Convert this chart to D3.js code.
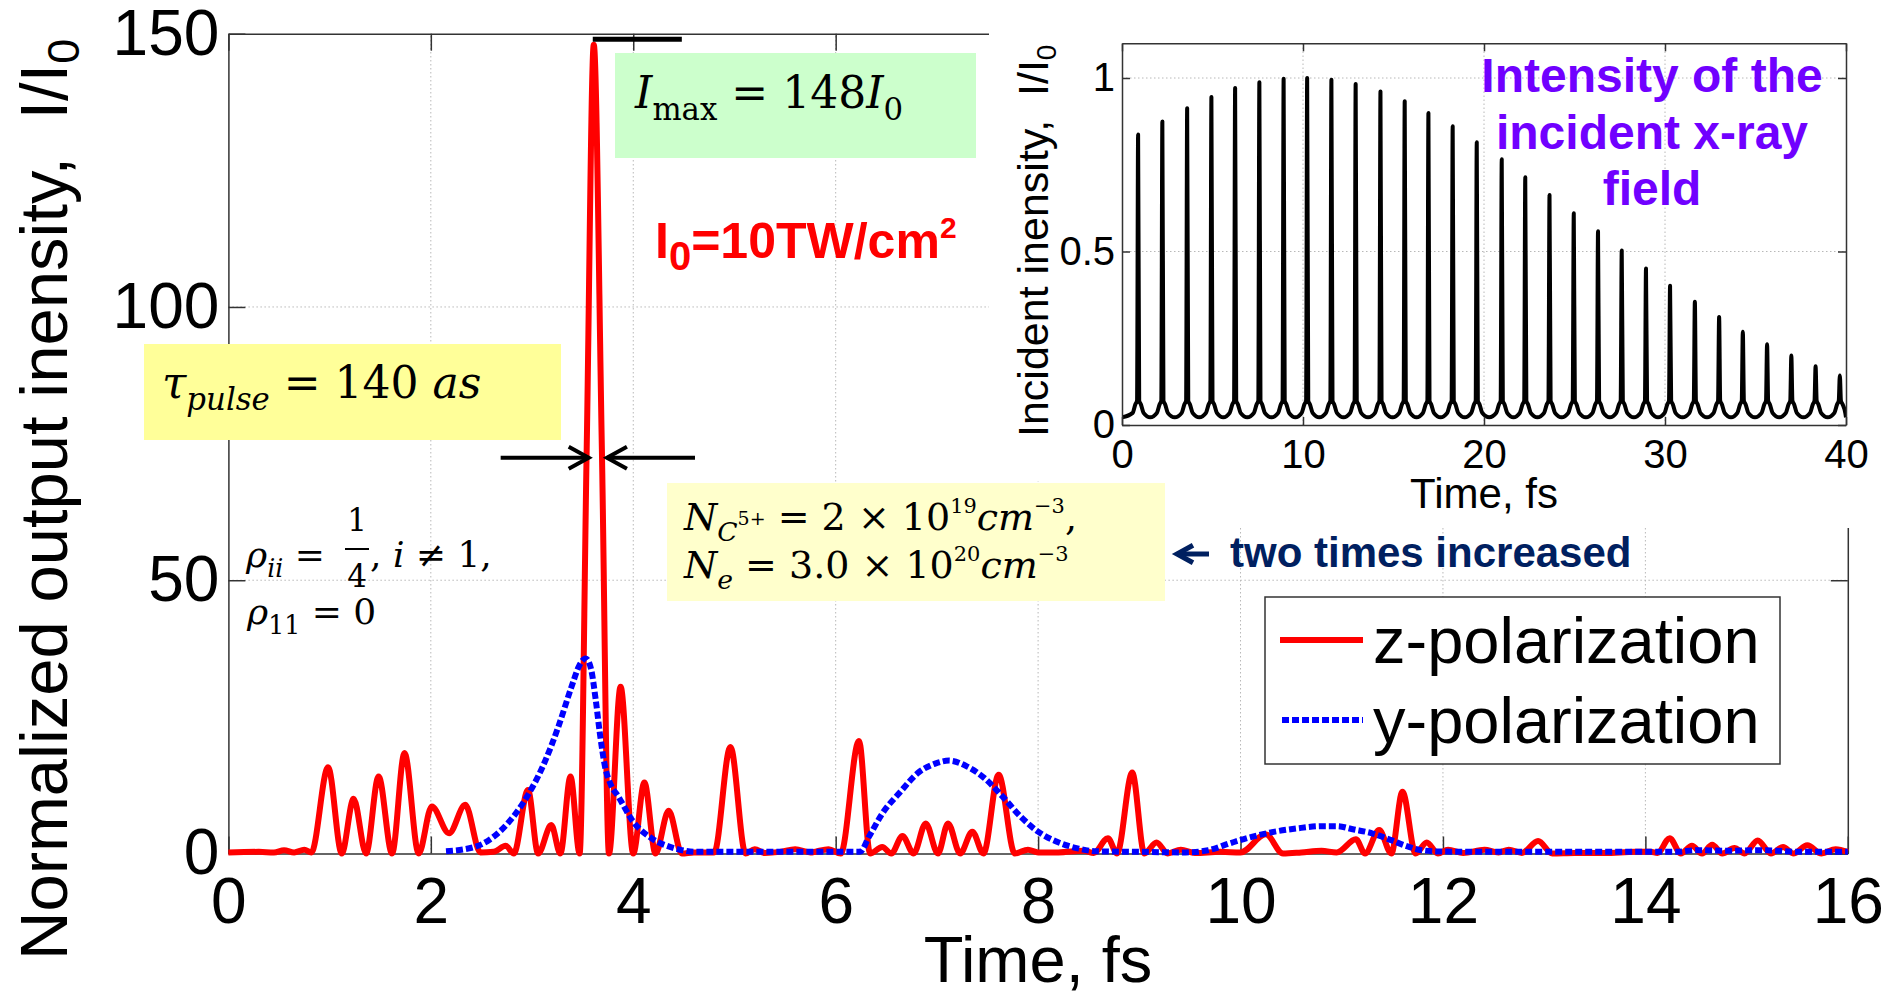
<!DOCTYPE html>
<html>
<head>
<meta charset="utf-8">
<script src="https://cdn.jsdelivr.net/npm/d3@7/dist/d3.min.js"></script>
<style>
body { margin: 0; background: #fff; }
svg text { font-family: "Liberation Sans", Arial, sans-serif; white-space: pre; }
.grid line { stroke: #b8b8b8; stroke-width: 1; stroke-dasharray: 1.5,2.5; }
.math { font-family: "DejaVu Serif", "Liberation Serif", serif; fill: #000; }
</style>
</head>
<body>
<div id="chart"></div>
<script>
// z-polarization (red): time [fs], I/I0
var zTime = [0, 0.3, 0.45, 0.55, 0.65, 0.75, 0.82, 0.985, 1.12, 1.237, 1.36, 1.484, 1.617, 1.74, 1.88,
	2.01, 2.18, 2.34, 2.49, 2.62, 2.74, 2.82, 2.96, 3.06, 3.19, 3.28, 3.38, 3.47, 3.54, 3.61, 3.69, 3.76,
	3.875, 4.0, 4.11, 4.22, 4.35, 4.48, 4.6, 4.8, 4.96, 5.11, 5.2, 5.3, 5.45, 5.6, 5.75, 5.93, 6.05,
	6.23, 6.34, 6.46, 6.55, 6.66, 6.77, 6.89, 7.01, 7.11, 7.23, 7.35, 7.46, 7.61, 7.77, 7.9, 8.0,
	8.2, 8.45, 8.55, 8.69, 8.78, 8.93, 9.05, 9.17, 9.28, 9.41, 9.55, 9.8, 10.0, 10.25, 10.42, 10.6,
	10.8, 10.95, 11.14, 11.23, 11.37, 11.49, 11.6, 11.73, 11.84, 11.95, 12.05, 12.2, 12.41, 12.55,
	12.65, 12.78, 12.94, 13.08, 13.3, 13.6, 13.9, 14.05, 14.12, 14.24, 14.35, 14.46, 14.56, 14.66,
	14.76, 14.88, 14.98, 15.11, 15.24, 15.36, 15.46, 15.6, 15.74, 15.88, 16];
var zVal = [0.2, 0.3, 0.2, 0.6, 0.2, 0.7, 0.2, 15.8, 0, 10.0, 0, 14.1, 0, 18.4, 0,
	8.6, 3.7, 8.9, 0.2, 0.3, 1.4, 0, 11.6, 0, 5.2, 0, 14.1, 0, 74, 148, 74, 0,
	30.5, 0, 13.0, 0, 7.8, 0, 0.2, 0.2, 19.5, 0, 0.8, 0.1, 0.3, 0.8, 0.2, 0.8, 0,
	20.6, 0, 1.2, 0, 3.2, 0, 5.5, 0, 5.5, 0, 4.0, 0, 14.4, 0, 0.7, 0.2,
	0.2, 0.5, 0.1, 2.8, 0, 14.8, 0, 2.0, 0, 0.7, 0.1, 0.3, 0.2, 3.5, 0, 0.2,
	0.5, 0.2, 2.6, 0, 4.3, 0, 11.3, 0, 2.0, 0, 0.7, 0.1, 0.7, 0.2,
	0.7, 0.1, 2.3, 0, 0.1, 0.1, 0.3, 0.3, 0.1, 2.8, 0, 1.4, 0, 1.6,
	0, 1.0, 0, 2.4, 0, 1.2, 0, 1.5, 0, 0.8, 0.3];

// y-polarization (blue, dotted)
var yTime = [2.15, 2.45, 2.68, 2.95, 3.12, 3.26, 3.39, 3.47, 3.53, 3.58, 3.63, 3.67, 3.72, 3.78, 3.85,
	4.0, 4.18, 4.4, 4.62, 5.5, 6.24, 6.33, 6.46, 6.64, 6.81, 6.99, 7.12, 7.3, 7.47, 7.65, 7.83, 8.0,
	8.18, 8.4, 8.58, 9.02, 9.46, 9.68, 9.9, 10.12, 10.34, 10.56, 10.8, 10.95, 11.12, 11.3, 11.48,
	11.65, 11.79, 12.0, 13.0, 14.3, 14.5, 14.8, 15.1, 15.3, 15.5, 16];
var yVal = [0.4, 1.3, 4.0, 10.4, 16.5, 23.2, 30.5, 34.5, 35.7, 34.0, 28.0, 22.0, 16.0, 12.5, 10.5,
	5.8, 2.8, 1.0, 0.3, 0.3, 0.3, 3.1, 7.3, 11.3, 14.7, 16.5, 17.0, 15.9, 13.8, 10.4, 6.7, 4.0,
	2.2, 0.9, 0.4, 0.3, 0.2, 0.6, 1.9, 3.1, 4.0, 4.6, 5.0, 5.0, 4.4, 3.7, 2.5,
	1.3, 0.6, 0.35, 0.3, 0.3, 0.6, 0.5, 0.6, 0.5, 0.3, 0.3];

// inset: incident pulse train
var pulseTime = [0.89, 2.23, 3.60, 4.94, 6.25, 7.59, 8.93, 10.23, 11.57, 12.91, 14.28, 15.62, 16.93, 18.27,
	19.60, 20.98, 22.28, 23.62, 24.96, 26.30, 27.61, 28.95, 30.28, 31.65, 32.99, 34.30, 35.64, 36.98,
	38.32, 39.66];
var pulsePeak = [0.837, 0.875, 0.913, 0.945, 0.971, 0.988, 0.998, 1.0, 0.995, 0.983, 0.961, 0.933, 0.899,
	0.861, 0.815, 0.766, 0.714, 0.663, 0.610, 0.558, 0.503, 0.451, 0.401, 0.355, 0.311, 0.269, 0.233,
	0.200, 0.169, 0.143];
var shoulderOffset = [-0.3, -0.15, -0.06, 0.06, 0.15, 0.3];
var shoulderLevel = [0.035, 0.06, 0.07, 0.07, 0.06, 0.035];
var floorLevel = 0.022;

var xTicks = [0, 2, 4, 6, 8, 10, 12, 14, 16];
var yTicks = [0, 50, 100, 150];
var insetXTicks = [0, 10, 20, 30, 40];
var insetYTicks = [0, 0.5, 1];

var W = 1885, H = 997;
var svg = d3.select("#chart").append("svg")
	.attr("width", W)
	.attr("height", H);

// Scales
var xScale = d3.scaleLinear().domain([0, 16]).range([228.4, 1847.8]);
var yScale = d3.scaleLinear().domain([0, 150]).range([853.5, 33.7]);

// Gridlines
var grid = svg.append("g").attr("class", "grid");
grid.selectAll(".gx").data(xTicks.slice(1, -1)).enter().append("line")
	.attr("x1", function(d) { return xScale(d); })
	.attr("x2", function(d) { return xScale(d); })
	.attr("y1", yScale(0)).attr("y2", yScale(150));
grid.selectAll(".gy").data(yTicks.slice(1, -1)).enter().append("line")
	.attr("x1", xScale(0)).attr("x2", xScale(16))
	.attr("y1", function(d) { return yScale(d); })
	.attr("y2", function(d) { return yScale(d); });

// Axes (ticks inside, matlab style)
function styleAxis(g, size) {
	g.attr("color", "#333");
	g.selectAll(".domain").attr("stroke-width", 1.5);
	g.selectAll(".tick line").attr("stroke-width", 1.5);
	g.selectAll("text").attr("font-size", size).attr("font-family", "Liberation Sans, Arial, sans-serif").attr("fill", "#000");
}
svg.append("g")
	.attr("transform", "translate(0," + yScale(0) + ")")
	.call(d3.axisBottom(xScale).tickValues(xTicks).tickSizeInner(-17).tickSizeOuter(0).tickPadding(24))
	.call(styleAxis, 64);
svg.append("g")
	.attr("transform", "translate(" + xScale(0) + ",0)")
	.call(d3.axisLeft(yScale).tickValues(yTicks).tickSizeInner(-17).tickSizeOuter(0).tickPadding(9))
	.call(styleAxis, 64);
svg.append("g")
	.attr("transform", "translate(0," + yScale(150) + ")")
	.call(d3.axisTop(xScale).tickValues(xTicks).tickSizeInner(-17).tickSizeOuter(0).tickFormat(""))
	.call(styleAxis, 64);
svg.append("g")
	.attr("transform", "translate(" + xScale(16) + ",0)")
	.call(d3.axisRight(yScale).tickValues(yTicks).tickSizeInner(-17).tickSizeOuter(0).tickFormat(""))
	.call(styleAxis, 64);

// axis titles
svg.append("text")
	.attr("x", 1038).attr("y", 982)
	.attr("text-anchor", "middle")
	.attr("font-size", 65)
	.text("Time, fs");
var yTitle = svg.append("text")
	.attr("transform", "translate(67,960) rotate(-90)")
	.attr("font-size", 67);
yTitle.append("tspan").text("Normalized output inensity,  I/I");
yTitle.append("tspan").attr("font-size", 45).attr("dy", 12).text("0");

// curves
var zData = zTime.map(function(t, i) { return [t, zVal[i]]; });
var yData = yTime.map(function(t, i) { return [t, yVal[i]]; });
var line = d3.line()
	.x(function(d) { return xScale(d[0]); })
	.y(function(d) { return yScale(d[1]); })
	.curve(d3.curveMonotoneX);

svg.append("path")
	.datum(zData)
	.attr("d", line)
	.attr("fill", "none")
	.attr("stroke", "#ff0000")
	.attr("stroke-width", 6)
	.attr("stroke-linejoin", "round");
svg.append("path")
	.datum(yData)
	.attr("d", line)
	.attr("fill", "none")
	.attr("stroke", "#0000ff")
	.attr("stroke-width", 6)
	.attr("stroke-dasharray", "7,3");

// Legend
var legend = svg.append("g");
legend.append("rect")
	.attr("x", 1265).attr("y", 597).attr("width", 515).attr("height", 167)
	.attr("fill", "#fff").attr("stroke", "#333").attr("stroke-width", 1.5);
legend.append("line").attr("x1", 1280).attr("x2", 1363).attr("y1", 640).attr("y2", 640)
	.attr("stroke", "#ff0000").attr("stroke-width", 6);
legend.append("line").attr("x1", 1282).attr("x2", 1363).attr("y1", 720).attr("y2", 720)
	.attr("stroke", "#0000ff").attr("stroke-width", 6).attr("stroke-dasharray", "7,3");
legend.append("text").attr("x", 1373).attr("y", 663).attr("font-size", 65).text("z-polarization");
legend.append("text").attr("x", 1373).attr("y", 743).attr("font-size", 65).text("y-polarization");

// math-ish text helper: parts = [text, kind]; kind: r, i, sub, subi, sup, supsub
function mathText(x, yy, size, parts, anchor) {
	var t = svg.append("text").attr("class", "math").attr("x", x).attr("y", yy)
		.attr("font-size", size).attr("text-anchor", anchor || "start");
	var cur = 0;
	parts.forEach(function(p) {
		var kind = p[1], shift = 0, fs = size, italic = false;
		if (kind === "i") italic = true;
		if (kind === "sub" || kind === "subi") { shift = 0.28 * size; fs = 0.7 * size; italic = kind === "subi"; }
		if (kind === "sup") { shift = -0.45 * size; fs = 0.55 * size; }
		if (kind === "supsub") { shift = -0.12 * size; fs = 0.5 * size; }
		t.append("tspan")
			.attr("dy", shift - cur)
			.attr("font-size", fs)
			.attr("font-style", italic ? "italic" : "normal")
			.text(p[0]);
		cur = shift;
	});
	return t;
}

// Inset (covers the upper right part of the main axes)
svg.append("rect").attr("x", 989).attr("y", 0).attr("width", W - 989).attr("height", 481).attr("fill", "#fff");
svg.append("rect").attr("x", 1165).attr("y", 481).attr("width", W - 1165).attr("height", 47).attr("fill", "#fff");

var xi = d3.scaleLinear().domain([0, 40]).range([1122, 1846]);
var yi = d3.scaleLinear().domain([0, 1.1]).range([425, 43.3]);

var igrid = svg.append("g").attr("class", "grid");
igrid.selectAll(".ix").data(insetXTicks.slice(1, -1)).enter().append("line")
	.attr("x1", function(d) { return xi(d); }).attr("x2", function(d) { return xi(d); })
	.attr("y1", yi(0)).attr("y2", yi(1.1));
igrid.selectAll(".iy").data(insetYTicks.slice(1)).enter().append("line")
	.attr("x1", xi(0)).attr("x2", xi(40))
	.attr("y1", function(d) { return yi(d); }).attr("y2", function(d) { return yi(d); });

var insetPts = [[0, floorLevel]];
pulseTime.forEach(function(t, i) {
	shoulderOffset.forEach(function(o, j) { if (o < 0) insetPts.push([t + o, shoulderLevel[j]]); });
	insetPts.push([t, pulsePeak[i]]);
	shoulderOffset.forEach(function(o, j) { if (o > 0) insetPts.push([t + o, shoulderLevel[j]]); });
	if (i < pulseTime.length - 1) insetPts.push([(t + pulseTime[i + 1]) / 2, floorLevel]);
});
insetPts.push([40, floorLevel]);

svg.append("clipPath").attr("id", "iclip").append("rect")
	.attr("x", xi(0)).attr("y", yi(1.1)).attr("width", xi(40) - xi(0)).attr("height", yi(0) - yi(1.1));
svg.append("path")
	.datum(insetPts)
	.attr("clip-path", "url(#iclip)")
	.attr("d", d3.line().x(function(d) { return xi(d[0]); }).y(function(d) { return yi(d[1]); }).curve(d3.curveMonotoneX))
	.attr("fill", "none")
	.attr("stroke", "#000")
	.attr("stroke-width", 4)
	.attr("stroke-linejoin", "round");

var fmt = function(d) { return String(d); };
svg.append("g").attr("transform", "translate(0," + yi(0) + ")")
	.call(d3.axisBottom(xi).tickValues(insetXTicks).tickFormat(fmt).tickSizeInner(-8).tickSizeOuter(0).tickPadding(15))
	.call(styleAxis, 40);
svg.append("g").attr("transform", "translate(" + xi(0) + ",0)")
	.call(d3.axisLeft(yi).tickValues(insetYTicks).tickFormat(fmt).tickSizeInner(-8).tickSizeOuter(0).tickPadding(7))
	.call(styleAxis, 40);
svg.append("g").attr("transform", "translate(0," + yi(1.1) + ")")
	.call(d3.axisTop(xi).tickValues(insetXTicks).tickSizeInner(-8).tickSizeOuter(0).tickFormat(""))
	.call(styleAxis, 40);
svg.append("g").attr("transform", "translate(" + xi(40) + ",0)")
	.call(d3.axisRight(yi).tickValues(insetYTicks).tickSizeInner(-8).tickSizeOuter(0).tickFormat(""))
	.call(styleAxis, 40);

svg.append("text").attr("x", 1484).attr("y", 508).attr("text-anchor", "middle")
	.attr("font-size", 42).text("Time, fs");
var iyTitle = svg.append("text")
	.attr("transform", "translate(1048,437) rotate(-90)")
	.attr("font-size", 43);
iyTitle.append("tspan").text("Incident inensity,  I/I");
iyTitle.append("tspan").attr("font-size", 28).attr("dy", 8).text("0");

var purple = ["Intensity of the", "incident x-ray", "field"];
purple.forEach(function(s, i) {
	svg.append("text").attr("x", 1652).attr("y", 92 + i * 56.5)
		.attr("text-anchor", "middle").attr("font-size", 48).attr("font-weight", "bold")
		.attr("fill", "#7000ff").text(s);
});

// Annotations
svg.append("line")
	.attr("x1", xScale(3.6)).attr("x2", xScale(4.48))
	.attr("y1", yScale(149)).attr("y2", yScale(149))
	.attr("stroke", "#000").attr("stroke-width", 5);

svg.append("rect").attr("x", 615).attr("y", 53).attr("width", 361).attr("height", 105).attr("fill", "#ccffcc");
mathText(635, 108, 44, [["I", "i"], ["max", "sub"], [" = 148", "r"], ["I", "i"], ["0", "sub"]]);

var i0 = svg.append("text").attr("x", 655).attr("y", 258)
	.attr("font-family", "Lato, 'Open Sans', sans-serif").attr("font-weight", "bold")
	.attr("font-size", 50).attr("fill", "#ff0000");
i0.append("tspan").text("I");
i0.append("tspan").attr("font-size", 40).attr("dy", 12).text("0");
i0.append("tspan").attr("dy", -12).text("=10TW/cm");
i0.append("tspan").attr("font-size", 30).attr("dy", -20).text("2");

svg.append("rect").attr("x", 144).attr("y", 344).attr("width", 417).attr("height", 96).attr("fill", "#ffff99");
mathText(162, 398, 44, [["τ", "i"], ["pulse", "subi"], [" = 140 ", "r"], ["as", "i"]]);

// pulse-width arrows at half maximum
var arrowY = yScale(72.4);
function arrow(xFrom, xTo, yy, head, color, width) {
	var dir = xTo > xFrom ? 1 : -1;
	var g = svg.append("g").attr("stroke", color).attr("stroke-width", width).attr("fill", "none");
	g.append("line").attr("x1", xFrom).attr("x2", xTo).attr("y1", yy).attr("y2", yy);
	g.append("path").attr("d", "M" + (xTo - dir * head) + "," + (yy - head * 0.55) + "L" + xTo + "," + yy + "L" + (xTo - dir * head) + "," + (yy + head * 0.55));
}
arrow(xScale(2.69), xScale(3.56), arrowY, 20, "#000", 4);
arrow(xScale(4.61), xScale(3.74), arrowY, 20, "#000", 4);

mathText(246, 567, 36, [["ρ", "i"], ["ii", "subi"], [" =", "r"]]);
mathText(357, 531, 31, [["1", "r"]], "middle");
svg.append("line").attr("x1", 345).attr("x2", 369).attr("y1", 549).attr("y2", 549).attr("stroke", "#000").attr("stroke-width", 2);
mathText(357, 587, 31, [["4", "r"]], "middle");
mathText(370, 567, 36, [[", ", "r"], ["i", "i"], [" ≠ 1,", "r"]]);
mathText(247, 624, 36, [["ρ", "i"], ["11", "sub"], [" = 0", "r"]]);

svg.append("rect").attr("x", 667).attr("y", 483).attr("width", 498).attr("height", 118).attr("fill", "#ffffcc");
mathText(684, 530, 38, [["N", "i"], ["C", "subi"], ["5+", "supsub"], [" = 2 × 10", "r"], ["19", "sup"], ["cm", "i"], ["−3", "sup"], [",", "r"]]);
mathText(684, 578, 38, [["N", "i"], ["e", "subi"], [" = 3.0 × 10", "r"], ["20", "sup"], ["cm", "i"], ["−3", "sup"]]);

arrow(1209, 1177, 554, 16, "#002060", 5);
svg.append("text").attr("x", 1230).attr("y", 567).attr("font-size", 42).attr("font-weight", "bold")
	.attr("fill", "#002060").text("two times increased");
</script>
</body>
</html>
